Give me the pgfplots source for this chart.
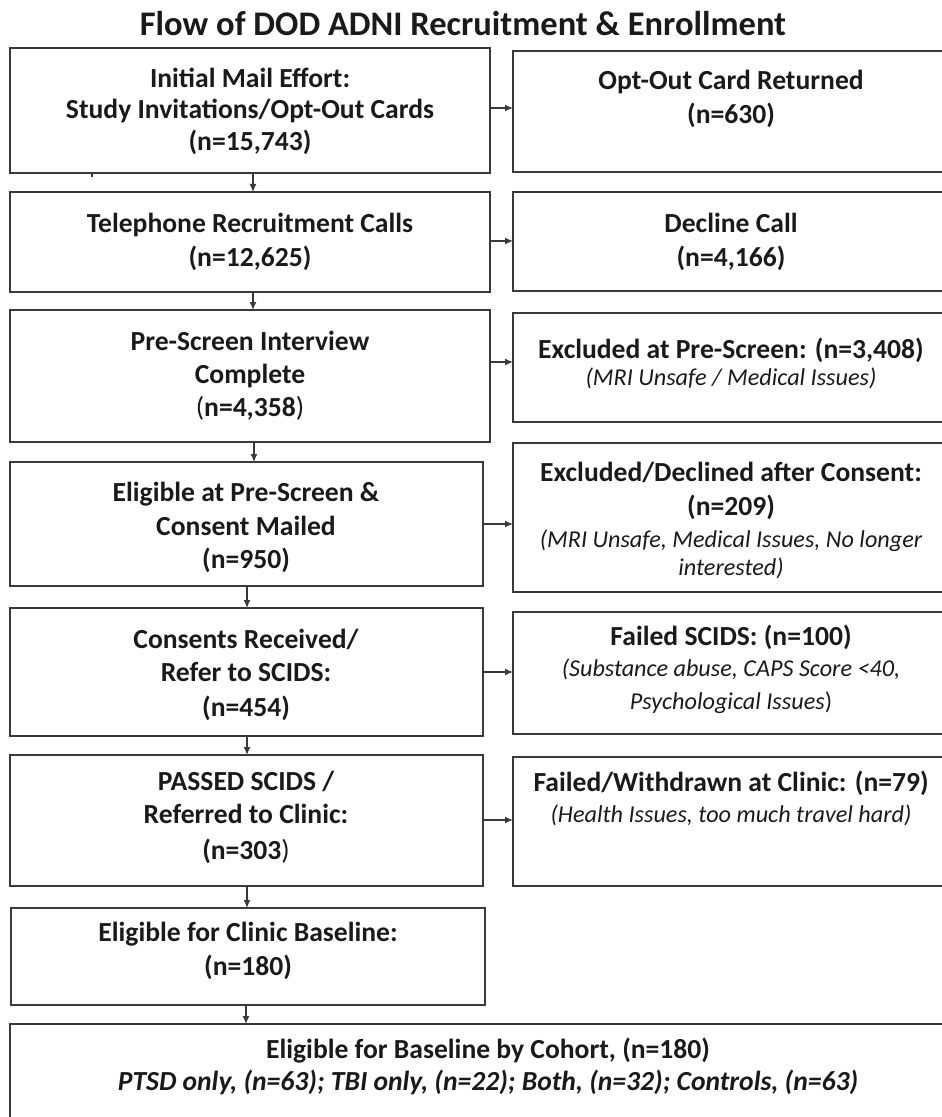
\documentclass[border=0pt]{standalone}
\usepackage{fontspec}
\setmainfont{Carlito}
\usepackage{pgfplots}
\pgfplotsset{compat=1.18}
\usetikzlibrary{arrows.meta}
\definecolor{bordercol}{HTML}{3A3A3A}
\definecolor{txtcol}{HTML}{1A1A1A}
\tikzset{
  bt/.style={anchor=base, text=txtcol, inner sep=0pt, font=\fontsize{27.6bp}{33bp}\selectfont\bfseries},
  it/.style={anchor=base, text=txtcol, inner sep=0pt, font=\fontsize{24.2bp}{29bp}\selectfont\itshape},
  tt/.style={anchor=base, text=txtcol, inner sep=0pt, font=\fontsize{34.5bp}{41bp}\selectfont\bfseries},
  bx/.style={draw=bordercol, line width=1.9bp},
  ar/.style={draw=bordercol, line width=1.3bp, -{Latex[length=8bp,width=7bp]}},
}
\begin{document}
\begin{tikzpicture}
\begin{axis}[
  width=942bp, height=1117bp, scale only axis,
  xmin=0, xmax=942, ymin=0, ymax=1117, y dir=reverse,
  hide axis, clip=true,
]
\path[draw=none] (axis cs:0,0) rectangle (axis cs:942,1117);
% title
\node[tt] at (axis cs:463,36) {Flow of DOD ADNI Recruitment \& Enrollment};
% left boxes
\draw[bx] (axis cs:10,48) rectangle (axis cs:490,173);
\draw[bx] (axis cs:10,192) rectangle (axis cs:490,292);
\draw[bx] (axis cs:10,310) rectangle (axis cs:490,442);
\draw[bx] (axis cs:10,462) rectangle (axis cs:483,586);
\draw[bx] (axis cs:10,608) rectangle (axis cs:483,736);
\draw[bx] (axis cs:10,755) rectangle (axis cs:483,886);
\draw[bx] (axis cs:11,908) rectangle (axis cs:485,1005);
% right boxes (cut at right edge)
\draw[bx] (axis cs:960,51) -- (axis cs:513,51) -- (axis cs:513,172) -- (axis cs:960,172);
\draw[bx] (axis cs:960,192) -- (axis cs:513,192) -- (axis cs:513,291) -- (axis cs:960,291);
\draw[bx] (axis cs:960,313) -- (axis cs:513,313) -- (axis cs:513,422) -- (axis cs:960,422);
\draw[bx] (axis cs:960,443) -- (axis cs:513,443) -- (axis cs:513,592) -- (axis cs:960,592);
\draw[bx] (axis cs:960,612) -- (axis cs:513,612) -- (axis cs:513,734) -- (axis cs:960,734);
\draw[bx] (axis cs:960,757) -- (axis cs:513,757) -- (axis cs:513,886) -- (axis cs:960,886);
% bottom box (cut at bottom and right)
\draw[bx] (axis cs:10,1130) -- (axis cs:10,1024) -- (axis cs:960,1024);
% small mark
\draw[bordercol, line width=2bp] (axis cs:92,173) -- (axis cs:92,177);
% horizontal arrows
\draw[ar] (axis cs:490,108) -- (axis cs:513,108);
\draw[ar] (axis cs:490,241) -- (axis cs:513,241);
\draw[ar] (axis cs:490,362) -- (axis cs:513,362);
\draw[ar] (axis cs:483,524) -- (axis cs:513,524);
\draw[ar] (axis cs:483,672) -- (axis cs:513,672);
\draw[ar] (axis cs:483,820) -- (axis cs:513,820);
% vertical arrows
\draw[ar] (axis cs:253,173) -- (axis cs:253,192);
\draw[ar] (axis cs:253,292) -- (axis cs:253,310);
\draw[ar] (axis cs:254,442) -- (axis cs:254,462);
\draw[ar] (axis cs:247,586) -- (axis cs:247,608);
\draw[ar] (axis cs:247,736) -- (axis cs:247,755);
\draw[ar] (axis cs:247,886) -- (axis cs:247,908);
\draw[ar] (axis cs:246,1005) -- (axis cs:246,1024);
% box 1
\node[bt] at (axis cs:250,88) {Initial Mail Effort:};
\node[bt] at (axis cs:250,119) {Study Invitations/Opt-Out Cards};
\node[bt] at (axis cs:250,151) {(n=15,743)};
\node[bt] at (axis cs:731,90) {Opt-Out Card Returned};
\node[bt] at (axis cs:731,124) {(n=630)};
% box 2
\node[bt] at (axis cs:250,232) {Telephone Recruitment Calls};
\node[bt] at (axis cs:250,266) {(n=12,625)};
\node[bt] at (axis cs:731,232) {Decline Call};
\node[bt] at (axis cs:731,266) {(n=4,166)};
% box 3
\node[bt] at (axis cs:250,350) {Pre-Screen Interview};
\node[bt] at (axis cs:250,383) {Complete};
\node[bt] at (axis cs:250,416) {\textmd{(}n=4,358\textmd{)}};
\node[bt] at (axis cs:731,358) {Excluded at Pre-Screen: (n=3,408)};
\node[it] at (axis cs:731,385) {(MRI Unsafe / Medical Issues)};
% box 4
\node[bt] at (axis cs:246,501) {Eligible at Pre-Screen \&};
\node[bt] at (axis cs:246,535) {Consent Mailed};
\node[bt] at (axis cs:246,568) {(n=950)};
\node[bt] at (axis cs:731,481) {Excluded/Declined after Consent:};
\node[bt] at (axis cs:731,515) {(n=209)};
\node[it] at (axis cs:731,547) {(MRI Unsafe, Medical Issues, No longer};
\node[it] at (axis cs:731,575) {interested)};
% box 5
\node[bt] at (axis cs:246,648) {Consents Received/};
\node[bt] at (axis cs:246,681) {Refer to SCIDS:};
\node[bt] at (axis cs:246,716) {(n=454)};
\node[bt] at (axis cs:731,645) {Failed SCIDS: (n=100)};
\node[it] at (axis cs:731,676) {(Substance abuse, CAPS Score <40,};
\node[it] at (axis cs:731,709) {Psychological Issues\textup{)}};
% box 6
\node[bt] at (axis cs:246,790) {PASSED SCIDS /};
\node[bt] at (axis cs:246,823) {Referred to Clinic:};
\node[bt] at (axis cs:246,859) {(n=303\textmd{)}};
\node[bt] at (axis cs:731,791) {Failed/Withdrawn at Clinic: (n=79)};
\node[it] at (axis cs:731,822) {(Health Issues, too much travel hard)};
% box 7
\node[bt] at (axis cs:248,941) {Eligible for Clinic Baseline:};
\node[bt] at (axis cs:248,975) {(n=180)};
% box 8
\node[bt] at (axis cs:488,1058) {Eligible for Baseline by Cohort, (n=180)};
\node[bt] at (axis cs:488,1090) {\itshape PTSD only, (n=63); TBI only, (n=22); Both, (n=32); Controls, (n=63)};
\end{axis}
\end{tikzpicture}
\end{document}
